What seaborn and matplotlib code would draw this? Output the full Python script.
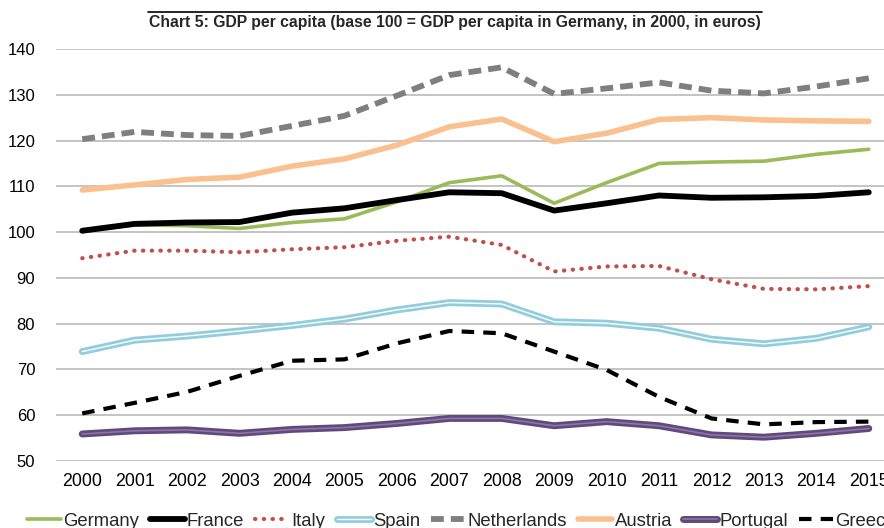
import matplotlib
matplotlib.use("Agg")
import matplotlib.pyplot as plt
import matplotlib.patheffects as pe
from matplotlib import font_manager
from matplotlib.lines import Line2D
import seaborn as sns
import pandas as pd

years = [str(y) for y in range(2000, 2016)]
germany = [100.1, 101.6, 101.4, 100.8, 102.1, 102.9, 106.6, 110.8, 112.3, 106.3, 110.8, 115.0, 115.3, 115.5, 117.0, 118.1]
france = [100.3, 101.8, 102.1, 102.2, 104.25, 105.2, 107.0, 108.7, 108.5, 104.7, 106.3, 108.0, 107.5, 107.6, 107.9, 108.7]
italy = [94.3, 95.95, 95.95, 95.6, 96.25, 96.7, 98.1, 99.0, 97.2, 91.4, 92.5, 92.6, 89.7, 87.6, 87.5, 88.2]
spain = [73.9, 76.4, 77.3, 78.4, 79.6, 81.0, 83.0, 84.6, 84.3, 80.4, 80.1, 79.0, 76.6, 75.6, 76.8, 79.3]
netherlands = [120.3, 121.9, 121.2, 121.0, 123.2, 125.4, 129.8, 134.3, 136.0, 130.2, 131.4, 132.7, 130.9, 130.3, 131.8, 133.6]
austria = [109.2, 110.3, 111.5, 112.0, 114.4, 116.0, 119.0, 123.0, 124.7, 119.75, 121.6, 124.6, 125.0, 124.5, 124.3, 124.2]
portugal = [55.9, 56.6, 56.8, 56.05, 56.9, 57.3, 58.2, 59.3, 59.3, 57.7, 58.6, 57.7, 55.7, 55.2, 56.05, 57.1]
greece = [60.4, 62.7, 65.1, 68.6, 71.9, 72.2, 75.7, 78.4, 77.9, 73.9, 69.9, 64.0, 59.3, 58.0, 58.5, 58.6]

countries = ["Germany", "France", "Italy", "Spain", "Netherlands", "Austria", "Portugal", "Greece"]
series = [germany, france, italy, spain, netherlands, austria, portugal, greece]
yticks = list(range(50, 141, 10))
title = "Chart 5: GDP per capita (base 100 = GDP per capita in Germany, in 2000, in euros)"

rows = []
for c, vals in zip(countries, series):
    for y, v in zip(years, vals):
        rows.append({"year": y, "country": c, "value": v})
df = pd.DataFrame(rows)

sns.set_theme(style="white")
entries = font_manager.fontManager.ttflist
names = {f.name for f in entries}
base_font = "Liberation Sans" if "Liberation Sans" in names else "DejaVu Sans"
plt.rcParams["font.family"] = [base_font, "DejaVu Sans"]

# look for a narrow bold face for the title
title_family = base_font
title_stretch = "normal"
for f in entries:
    st = str(f.stretch)
    if "Narrow" in f.name and "bold" in str(f.weight).lower() + str(f.weight):
        title_family, title_stretch = f.name, st
        break

fig = plt.figure(figsize=(8.84, 5.28), dpi=100)
ax = fig.add_axes([56 / 884, 1 - 461 / 528, (895 - 56) / 884, 412 / 528])

styles = {
    "Germany": dict(color="#9BBB59", lw=2.6, ls="-"),
    "France": dict(color="#000000", lw=4.2, ls="-"),
    "Italy": dict(color="#C0504D", lw=3.0, ls=(0, (0.1, 2.0))),
    "Spain": dict(color="#FFFFFF", lw=1.0, ls="-", pe=("#93CDDD", 5.0)),
    "Netherlands": dict(color="#7F7F7F", lw=4.2, ls=(0, (2.2, 1.2))),
    "Austria": dict(color="#FAC090", lw=4.0, ls="-"),
    "Portugal": dict(color="#8C76A8", lw=1.2, ls="-", pe=("#604A7B", 5.0)),
    "Greece": dict(color="#000000", lw=3.0, ls=(0, (3.0, 2.2))),
}

for c in countries:
    s = styles[c]
    sub = df[df["country"] == c]
    sns.lineplot(data=sub, x="year", y="value", ax=ax, color=s["color"],
                 linewidth=s["lw"], label=c, sort=False, estimator=None)
    line = ax.lines[-1]
    line.set_linestyle(s["ls"])
    if c == "Italy":
        line.set_dash_capstyle("round")
    if "pe" in s:
        col, w = s["pe"]
        line.set_path_effects([pe.Stroke(linewidth=w, foreground=col), pe.Normal()])

ax.set_xlim(-0.5, 15.5)
ax.set_ylim(50, 140)
ax.set_yticks(yticks)
ax.set_xlabel("")
ax.set_ylabel("")
ax.grid(axis="y", color="#BFBFBF", linewidth=1.3)
ax.set_axisbelow(True)
for sp in ax.spines.values():
    sp.set_visible(False)
ax.tick_params(axis="y", length=0, pad=15, labelsize=12, colors="#000000")
ax.tick_params(axis="x", length=0, pad=9, labelsize=12.8, colors="#000000")

handles, labels = ax.get_legend_handles_labels()
leg = ax.legend(handles, labels, loc="center left", bbox_to_anchor=(27 / 884, 7 / 528),
                bbox_transform=fig.transFigure, ncol=8, frameon=False, fontsize=13.3,
                handlelength=1.85, handletextpad=0.12, columnspacing=0.6,
                borderaxespad=0, borderpad=0)

t = fig.text(455 / 884, 1 - 22 / 528, title, family=title_family, fontstretch=title_stretch,
             fontsize=12.5, fontweight="bold", ha="center", va="center")
# fit the title width to the span of the rule above it (about 614 px)
renderer = fig.canvas.get_renderer()
w = t.get_window_extent(renderer).width
if w > 0:
    t.set_fontsize(12.5 * 614.0 / w)
fig.add_artist(Line2D([148 / 884, 762 / 884], [1 - 12 / 528, 1 - 12 / 528],
                      transform=fig.transFigure, color="black", lw=1.2))

fig.savefig("out.png", dpi=100)
